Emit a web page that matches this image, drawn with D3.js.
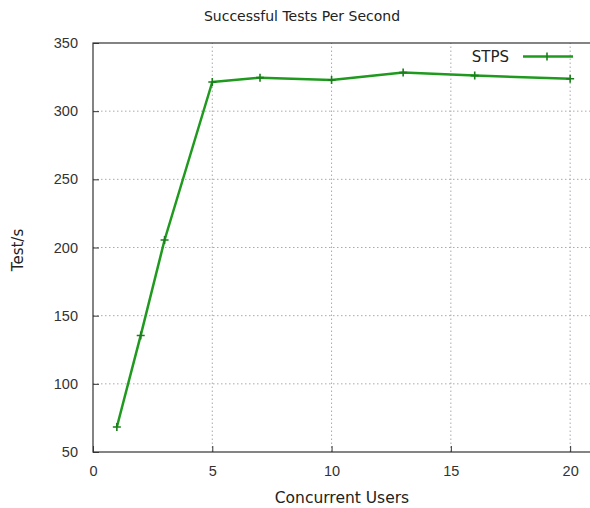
<!DOCTYPE html>
<html>
<head>
<meta charset="utf-8">
<script src="https://cdn.jsdelivr.net/npm/d3@7"></script>
<style>
  body { margin: 0; background: #fff; }
  svg { font-family: "DejaVu Sans", sans-serif; }
</style>
</head>
<body>
<svg id="chart" width="590" height="508"></svg>
<script>
// values
const users = [1, 2, 3, 5, 7, 10, 13, 16, 20];
const stps = [68.3, 135.5, 205.5, 321.4, 324.6, 322.9, 328.4, 326.1, 323.8];
const xTicks = [0, 5, 10, 15, 20];
const yTicks = [50, 100, 150, 200, 250, 300, 350];

const width = 590;
const height = 508;
const margin = { top: 43, right: -4, bottom: 56, left: 93 };

const svg = d3.select('#chart');

const x = d3.scaleLinear()
  .domain([0, 21])
  .range([margin.left, width - margin.right]);

const y = d3.scaleLinear()
  .domain([50, 350])
  .range([height - margin.bottom, margin.top]);

// grid
svg.append('g')
  .selectAll('line')
  .data(xTicks.slice(1))
  .enter().append('line')
  .attr('x1', d => x(d)).attr('x2', d => x(d))
  .attr('y1', y(50)).attr('y2', y(350))
  .attr('stroke', '#aaa')
  .attr('stroke-width', 1)
  .attr('stroke-dasharray', '1.5,2.5');

svg.append('g')
  .selectAll('line')
  .data(yTicks.slice(1, -1))
  .enter().append('line')
  .attr('x1', x(0)).attr('x2', x(21))
  .attr('y1', d => y(d)).attr('y2', d => y(d))
  .attr('stroke', '#aaa')
  .attr('stroke-width', 1)
  .attr('stroke-dasharray', '1.5,2.5');

// border
svg.append('rect')
  .attr('x', x(0)).attr('y', y(350))
  .attr('width', x(21) - x(0)).attr('height', y(50) - y(350))
  .attr('fill', 'none')
  .attr('stroke', '#333')
  .attr('stroke-width', 1.2);

// axes (ticks point inward)
svg.append('g')
  .attr('transform', `translate(0,${y(50)})`)
  .call(d3.axisBottom(x).tickValues(xTicks).tickSize(-6).tickPadding(12))
  .call(g => g.select('.domain').remove())
  .call(g => g.selectAll('line').attr('stroke', '#333'))
  .call(g => g.selectAll('text').attr('font-size', 14.5).attr('fill', '#333').attr('dy', '0.85em'));

svg.append('g')
  .attr('transform', `translate(${x(0)},0)`)
  .call(d3.axisLeft(y).tickValues(yTicks).tickSize(-6).tickPadding(15))
  .call(g => g.select('.domain').remove())
  .call(g => g.selectAll('line').attr('stroke', '#333'))
  .call(g => g.selectAll('text').attr('font-size', 14.5).attr('fill', '#333'));

// line + points
const green = '#1f9a1f';
const line = d3.line()
  .x((d, i) => x(users[i]))
  .y(d => y(d));

svg.append('path')
  .datum(stps)
  .attr('d', line)
  .attr('fill', 'none')
  .attr('stroke', green)
  .attr('stroke-width', 2.5)
  .attr('stroke-linejoin', 'round');

svg.append('g')
  .selectAll('path')
  .data(stps)
  .enter().append('path')
  .attr('d', (d, i) => {
    const cx = x(users[i]), cy = y(d);
    return `M${cx - 4},${cy}H${cx + 4}M${cx},${cy - 4}V${cy + 4}`;
  })
  .attr('stroke', '#1a7f1a')
  .attr('stroke-width', 1.6);

// legend
svg.append('text')
  .attr('x', 509).attr('y', 62)
  .attr('text-anchor', 'end')
  .attr('font-size', 15)
  .attr('fill', '#222')
  .text('STPS');

svg.append('line')
  .attr('x1', 523).attr('x2', 573)
  .attr('y1', 56.5).attr('y2', 56.5)
  .attr('stroke', green)
  .attr('stroke-width', 2.5);

svg.append('line')
  .attr('x1', 547).attr('x2', 547)
  .attr('y1', 52.5).attr('y2', 60.5)
  .attr('stroke', '#1a7f1a')
  .attr('stroke-width', 1.6);

// titles
svg.append('text')
  .attr('x', 302).attr('y', 20.5)
  .attr('text-anchor', 'middle')
  .attr('font-size', 14)
  .attr('fill', '#222')
  .text('Successful Tests Per Second');

svg.append('text')
  .attr('x', 342).attr('y', 503)
  .attr('text-anchor', 'middle')
  .attr('font-size', 15.5)
  .attr('fill', '#222')
  .text('Concurrent Users');

svg.append('text')
  .attr('transform', 'translate(23,250) rotate(-90)')
  .attr('text-anchor', 'middle')
  .attr('font-size', 15)
  .attr('fill', '#222')
  .text('Test/s');
</script>
</body>
</html>
